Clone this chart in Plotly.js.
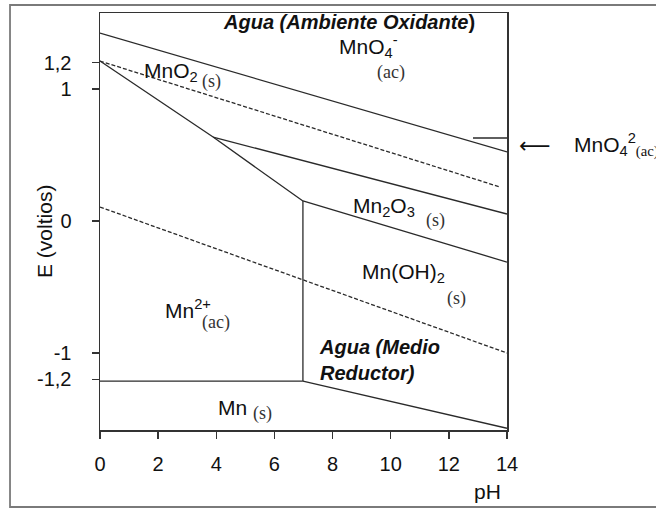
<!DOCTYPE html>
<html><head><meta charset="utf-8">
<script src="https://cdn.plot.ly/plotly-3.0.1.min.js"></script>
<style>html,body{margin:0;padding:0;background:#fff;} #chart{width:656px;height:508px;}</style>
</head><body><div id="chart"></div>
<script>
// Boundary lines of the Mn Pourbaix diagram (pH, E in volts)
const mno4Top_pH = [0, 14];
const mno4Top_E = [1.424, 0.523];
const mno4Mark_pH = [12.83, 14];
const mno4Mark_E = [0.629, 0.629];
const o2Water_pH = [0, 13.76];
const o2Water_E = [1.212, 0.258];
const mno2Mn2_pH = [0, 3.89, 6.98];
const mno2Mn2_E = [1.212, 0.636, 0.152];
const mno2Mn2o3_pH = [3.89, 14];
const mno2Mn2o3_E = [0.636, 0.053];
const mn2o3MnOH2_pH = [6.98, 14];
const mn2o3MnOH2_E = [0.152, -0.311];
const mn2MnOH2_pH = [6.98, 6.98];
const mn2MnOH2_E = [0.152, -1.212];
const mnMn2_pH = [0, 6.98];
const mnMn2_E = [-1.212, -1.212];
const mnMnOH2_pH = [6.98, 14];
const mnMnOH2_E = [-1.212, -1.57];
const h2Water_pH = [0, 14];
const h2Water_E = [0.106, -1.0];

const xTickVals = [0, 2, 4, 6, 8, 10, 12, 14];
const xTickText = ['0', '2', '4', '6', '8', '10', '12', '14'];
const yTickVals = [1.2, 1, 0, -1, -1.2];
const yTickText = ['1,2', '1', '0', '-1', '-1,2'];

const SANS = 'Liberation Sans, Arial, sans-serif';
const SERIF = 'Liberation Serif, Times New Roman, serif';
const LINE = '#2a2a2a';

function seg(x, y, dash) {
  return {x: x, y: y, type: 'scatter', mode: 'lines', hoverinfo: 'skip', showlegend: false,
          line: {color: LINE, width: 1.3, dash: dash || 'solid'}};
}
const data = [
  seg(mno4Top_pH, mno4Top_E),
  seg(mno4Mark_pH, mno4Mark_E),
  seg(o2Water_pH, o2Water_E, '4px,2px'),
  seg(mno2Mn2_pH, mno2Mn2_E),
  seg(mno2Mn2o3_pH, mno2Mn2o3_E),
  seg(mn2o3MnOH2_pH, mn2o3MnOH2_E),
  seg(mn2MnOH2_pH, mn2MnOH2_E),
  seg(mnMn2_pH, mnMn2_E),
  seg(mnMnOH2_pH, mnMnOH2_E),
  seg(h2Water_pH, h2Water_E, '4px,2px')
];

function ann(text, x, y, opt) {
  opt = opt || {};
  return Object.assign({text: text, x: x, y: y, xref: 'x', yref: 'y', showarrow: false,
    xanchor: 'left', yanchor: 'middle',
    font: {family: opt.family || SANS, size: opt.size || 21, color: opt.color || '#111'}}, opt.extra || {});
}

const annotations = [
  ann('<b><i>Agua (Ambiente Oxidante</i>)</b>', 8.55, 1.505, {size: 20, extra: {xanchor: 'center'}}),
  ann('MnO<sub>4</sub><sup>-</sup>', 8.15, 1.32),
  ann('(ac)', 9.45, 1.125, {family: SERIF, size: 18, color: '#333'}),
  ann('MnO<sub>2</sub>', 1.45, 1.13),
  ann('(s)', 3.45, 1.06, {family: SERIF, size: 18, color: '#333'}),
  ann('Mn<sub>2</sub>O<sub>3</sub>', 8.65, 0.11),
  ann('(s)', 11.15, 0.005, {family: SERIF, size: 18, color: '#333'}),
  ann('Mn(OH)<sub>2</sub>', 8.95, -0.39),
  ann('(s)', 11.85, -0.59, {family: SERIF, size: 18, color: '#333'}),
  ann('Mn<sup>2+</sup>', 2.15, -0.67),
  ann('(ac)', 3.45, -0.77, {family: SERIF, size: 18, color: '#333'}),
  ann('<b><i>Agua (Medio<br>Reductor)</i></b>', 7.45, -1.05, {size: 20, extra: {align: 'left'}}),
  ann('Mn', 4.0, -1.415),
  ann('(s)', 5.2, -1.455, {family: SERIF, size: 18, color: '#333'}),
  ann('\u27F5', 1.069, 0.576, {family: 'DejaVu Sans', size: 22, extra: {xref: 'paper', xanchor: 'center'}}),
  ann('MnO<sub>4</sub><sup>2</sup><sub><span style="font-family:Liberation Serif">(ac)</span></sub>', 1.160, 0.576, {extra: {xref: 'paper'}}),
  ann('pH', 0.953, -0.147, {extra: {xref: 'paper', yref: 'paper', xanchor: 'center'}}),
  ann('E (voltios)', -0.135, 0.475, {extra: {xref: 'paper', yref: 'paper', xanchor: 'center', textangle: -90}})
];

const layout = {
  width: 656, height: 508,
  margin: {l: 100, r: 149, t: 13, b: 78, pad: 0},
  paper_bgcolor: '#fff', plot_bgcolor: '#fff',
  showlegend: false,
  font: {family: SANS, size: 20, color: '#111'},
  xaxis: {range: [0, 14], tickvals: xTickVals, ticktext: xTickText, showgrid: false, zeroline: false,
          showline: true, mirror: true, linecolor: '#333', linewidth: 1.5,
          ticks: 'outside', ticklen: 7, tickcolor: '#333', tickwidth: 1.3, ticklabelstandoff: 8,
          tickfont: {family: SANS, size: 20, color: '#111'}, fixedrange: true},
  yaxis: {range: [-1.583, 1.576], tickvals: yTickVals, ticktext: yTickText, showgrid: false, zeroline: false,
          showline: true, mirror: true, linecolor: '#333', linewidth: 1.5,
          ticks: 'outside', ticklen: 7, tickcolor: '#333', tickwidth: 1.3, ticklabelstandoff: 16,
          tickfont: {family: SANS, size: 20, color: '#111'}, fixedrange: true},
  annotations: annotations,
  shapes: [{type: 'rect', xref: 'paper', yref: 'paper', x0: -0.2211, x1: 1.385, y0: -0.1847, y1: 1.0192,
            line: {color: '#7a7a7a', width: 1.8}, fillcolor: 'rgba(0,0,0,0)', layer: 'below'}]
};

Plotly.newPlot('chart', data, layout, {staticPlot: true, displayModeBar: false});
</script>
</body></html>
